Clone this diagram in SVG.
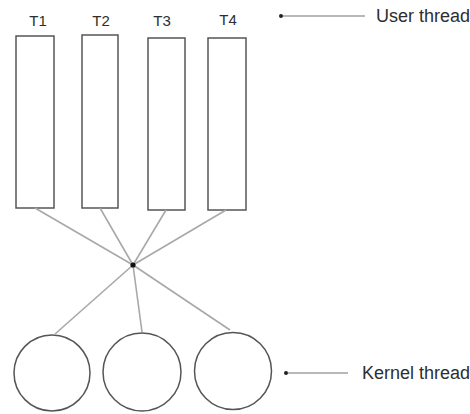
<svg xmlns="http://www.w3.org/2000/svg" width="470" height="414" viewBox="0 0 470 414">
  <style>
    .thread { fill: #ffffff; stroke: #555555; stroke-width: 1.5; }
    .label { font-family: "Liberation Sans", Arial, sans-serif; fill: #2e2e2e; }
    .tlabel { font-size: 15px; text-anchor: middle; }
    .side { font-size: 18px; }
    .link { stroke: #a8a8a8; stroke-width: 1.6; fill: none; }
    .pointer { stroke: #b8b8b8; stroke-width: 2; fill: none; }
  </style>
  <defs>
    <marker id="tip" viewBox="0 0 6 6" refX="1" refY="3" markerWidth="6" markerHeight="6" markerUnits="userSpaceOnUse" orient="auto">
      <circle cx="3" cy="3" r="2" fill="#222222"/>
    </marker>
  </defs>
  <rect width="470" height="414" fill="#ffffff"/>

  <!-- user threads -->
  <g id="t1">
    <rect class="thread" x="16" y="36" width="38" height="172"/>
    <text class="label tlabel" x="38" y="26">T1</text>
  </g>
  <g id="t2">
    <rect class="thread" x="82" y="35" width="36" height="173"/>
    <text class="label tlabel" x="101" y="26">T2</text>
  </g>
  <g id="t3">
    <rect class="thread" x="148" y="38" width="37" height="172"/>
    <text class="label tlabel" x="162" y="26">T3</text>
  </g>
  <g id="t4">
    <rect class="thread" x="208" y="38" width="38" height="172"/>
    <text class="label tlabel" x="228" y="25">T4</text>
  </g>

  <!-- kernel threads -->
  <g id="k1"><circle class="thread" cx="52" cy="373" r="38"/></g>
  <g id="k2"><circle class="thread" cx="142" cy="372" r="39"/></g>
  <g id="k3"><circle class="thread" cx="233" cy="371" r="38.5"/></g>

  <!-- mapping lines through the multiplexing point -->
  <g id="connectors">
    <line class="link" x1="35" y1="208" x2="133" y2="265"/>
    <line class="link" x1="100" y1="208" x2="133" y2="265"/>
    <line class="link" x1="166" y1="210" x2="133" y2="265"/>
    <line class="link" x1="226" y1="210" x2="133" y2="265"/>
    <line class="link" x1="133" y1="265" x2="55" y2="334"/>
    <line class="link" x1="133" y1="265" x2="142" y2="332"/>
    <line class="link" x1="133" y1="265" x2="230" y2="330"/>
    <circle cx="133" cy="265" r="2.6" fill="#111111"/>
    <line class="pointer" x1="365" y1="16" x2="283" y2="16" marker-end="url(#tip)"/>
    <line class="pointer" x1="348" y1="373" x2="288" y2="373" marker-end="url(#tip)"/>
  </g>

  <g id="user-thread-label">
    <text class="label side" x="376" y="22">User thread</text>
  </g>
  <g id="kernel-thread-label">
    <text class="label side" x="362" y="379">Kernel thread</text>
  </g>
</svg>
